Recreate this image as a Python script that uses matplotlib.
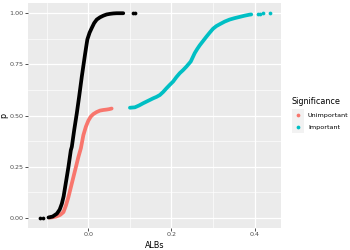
import matplotlib
matplotlib.use("Agg")
import matplotlib.pyplot as plt
from matplotlib.patches import Rectangle
from matplotlib.lines import Line2D

# ---- data ----
all_x = [-0.096, -0.086, -0.0758, -0.069, -0.0638, -0.0595, -0.0559, -0.052, -0.048, -0.0422,
         -0.0398, -0.034, -0.0278, -0.022, -0.0158, -0.0115, -0.0079, -0.0045, -0.0024, 0.003,
         0.0082, 0.014, 0.0202, 0.028, 0.036, 0.044, 0.052, 0.060, 0.068, 0.076, 0.084]
all_y = [0.0015, 0.006, 0.020, 0.040, 0.069, 0.105, 0.150, 0.198, 0.248, 0.330,
         0.347, 0.430, 0.511, 0.595, 0.690, 0.750, 0.800, 0.845, 0.872, 0.905,
         0.928, 0.952, 0.969, 0.980, 0.988, 0.994, 0.997, 0.999, 1.0, 1.0, 1.0]
all_tail_x = [-0.1176, -0.108, 0.108, 0.112]
all_tail_y = [0.0, 0.0, 1.0, 1.0]

sig_labels = ["Unimportant", "Important"]
sig_colors = ["#F8766D", "#00BFC4"]

unimp_x = [-0.093, -0.0775, -0.068, -0.060, -0.054, -0.048, -0.042, -0.036, -0.030, -0.024,
           -0.018, -0.012, -0.006, 0.0, 0.006, 0.012, 0.020, 0.028, 0.036, 0.044, 0.050, 0.056]
unimp_y = [0.0, 0.006, 0.014, 0.0275, 0.060, 0.101, 0.150, 0.199, 0.248, 0.297,
           0.340, 0.404, 0.445, 0.475, 0.495, 0.507, 0.517, 0.524, 0.527, 0.529, 0.531, 0.534]

imp_x = [0.1001, 0.112, 0.122, 0.132, 0.144, 0.156, 0.164, 0.172, 0.180, 0.188, 0.196, 0.204,
         0.212, 0.220, 0.228, 0.236, 0.2465, 0.256, 0.262, 0.268, 0.276, 0.284, 0.292, 0.300,
         0.308, 0.316, 0.328, 0.340, 0.352, 0.364, 0.376, 0.388, 0.392]
imp_y = [0.538, 0.540, 0.549, 0.560, 0.572, 0.584, 0.591, 0.600, 0.615, 0.633, 0.650, 0.666,
         0.688, 0.707, 0.722, 0.739, 0.764, 0.805, 0.825, 0.843, 0.864, 0.885, 0.905, 0.924,
         0.937, 0.946, 0.959, 0.969, 0.976, 0.982, 0.988, 0.993, 0.994]
imp_tail_x = [0.408, 0.414, 0.420, 0.436]
imp_tail_y = [0.995, 0.997, 0.999, 1.0]

x_ticks = [0.0, 0.2, 0.4]
x_tick_labels = ["0.0", "0.2", "0.4"]
y_ticks = [0.0, 0.25, 0.5, 0.75, 1.0]
y_tick_labels = ["0.00", "0.25", "0.50", "0.75", "1.00"]

# ---- figure ----
fig = plt.figure(figsize=(3.5, 2.5), dpi=100)
ax = fig.add_axes([28/350, 1 - 228/250, (281 - 28)/350, (228 - 3)/250])
ax.set_facecolor("#EBEBEB")
for s in ax.spines.values():
    s.set_visible(False)

lw = 2.7
ms = 2.7
kw = dict(lw=lw, solid_capstyle='round', solid_joinstyle='round')
ax.plot(unimp_x, unimp_y, '-', color=sig_colors[0], zorder=3, **kw)
ax.plot(imp_x, imp_y, '-', color=sig_colors[1], zorder=3, **kw)
ax.plot(imp_tail_x, imp_tail_y, 'o', color=sig_colors[1], ms=ms, mew=0, zorder=3)
ax.plot(all_x, all_y, '-', color="black", zorder=4, **kw)
ax.plot(all_tail_x, all_tail_y, 'o', color="black", ms=ms, mew=0, zorder=4)

xmin, xmax = -0.1176, 0.436
r = xmax - xmin
ax.set_xlim(xmin - 0.05 * r, xmax + 0.05 * r)
ax.set_ylim(-0.05, 1.05)

ax.set_xticks(x_ticks)
ax.set_xticklabels(x_tick_labels)
ax.set_yticks(y_ticks)
ax.set_yticklabels(y_tick_labels)
ax.set_xticks([-0.1, 0.1, 0.3], minor=True)
ax.set_yticks([0.125, 0.375, 0.625, 0.875], minor=True)
ax.grid(True, which='major', color='white', lw=0.9, zorder=0)
ax.grid(True, which='minor', color='white', lw=0.45, zorder=0)
ax.set_axisbelow(True)
ax.tick_params(which='major', length=2, width=0.6, color='#333333',
               labelsize=4.6, labelcolor='#4D4D4D', pad=1.2)
ax.tick_params(which='minor', length=0)
ax.set_xlabel("ALBs", fontsize=5.8, labelpad=2.5)
ax.set_ylabel("p", fontsize=5.8, labelpad=0.5)

# legend
fig.text(291/350, 1 - 101/250, "Significance", fontsize=5.8, va='center', ha='left')
key_y = [115, 127]
for lab, col, ky in zip(sig_labels, sig_colors, key_y):
    fig.patches.append(Rectangle((292/350, 1 - (ky + 6)/250), 12/350, 12/250,
                                 transform=fig.transFigure, facecolor='#F2F2F2',
                                 edgecolor='none'))
    fig.lines.append(Line2D([298/350], [1 - ky/250], marker='o', color=col,
                            ms=ms, mew=0, transform=fig.transFigure))
    fig.text(308/350, 1 - ky/250, lab, fontsize=4.6, va='center', ha='left')

fig.savefig("out.png", dpi=100)
